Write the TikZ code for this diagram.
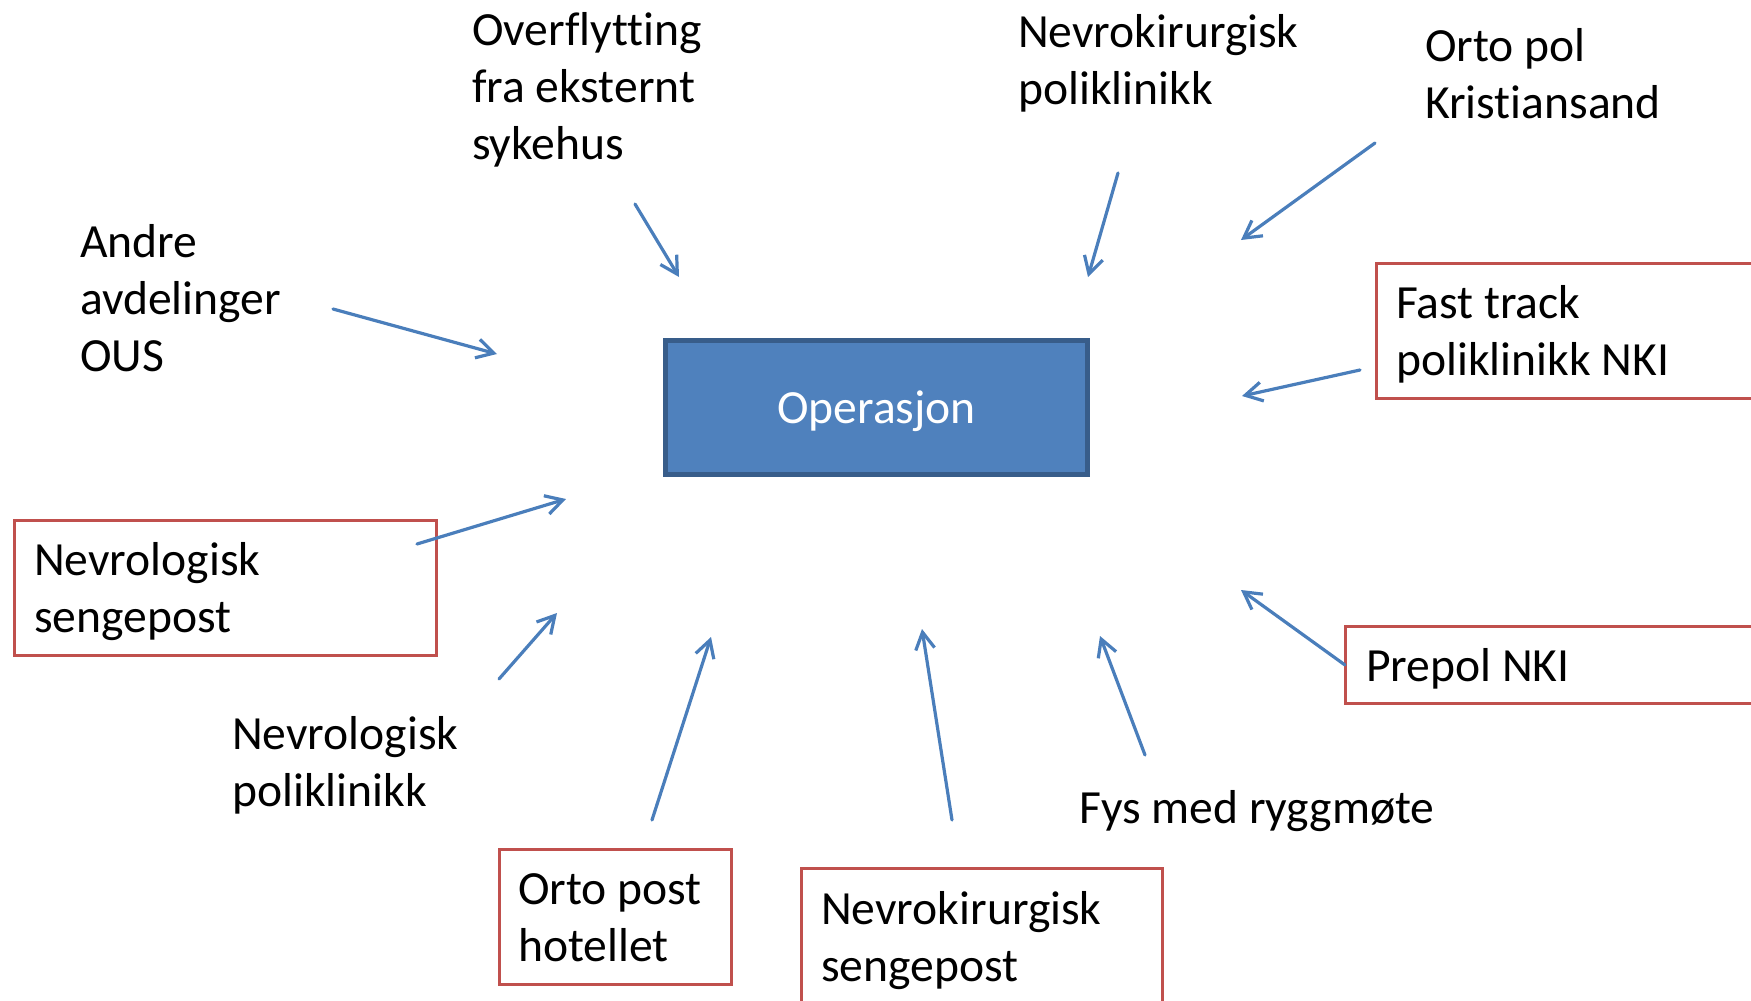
\documentclass[tikz,border=0pt]{standalone}
\usepackage{fontspec}
\setmainfont{Carlito}[Ligatures=NoCommon]
\usetikzlibrary{arrows.meta}
\definecolor{arrowblue}{HTML}{4A7EBB}
\definecolor{boxred}{HTML}{C0504D}
\definecolor{opfill}{HTML}{4F81BD}
\definecolor{opdraw}{HTML}{385D8A}
\tikzset{
  lbl/.style={anchor=north west, inner sep=0pt, align=left,
    font=\fontsize{47.6pt}{57pt}\selectfont},
  redbox/.style={draw=boxred, line width=2.5pt, anchor=north west,
    inner sep=0pt, rectangle},
  opbox/.style={draw=opdraw, fill=opfill, line width=5pt, rectangle,
    minimum width=422pt, minimum height=134pt, inner sep=0pt,
    text=white, font=\fontsize{47.6pt}{57pt}\selectfont,
    text height=40pt, text depth=9pt},
  arr/.style={draw=arrowblue, line width=3.2pt, line cap=round,
    -{Straight Barb[length=17pt,width=19pt,line width=3.2pt]}}
}
\begin{document}
\begin{tikzpicture}[x=1pt,y=-1pt]
\useasboundingbox (0,0) rectangle (1751,1001);
\clip (0,0) rectangle (1751,1001);
% central box
\node[opbox] (op) at (876.5,407.5) {Operasjon};
% red boxes
\node[redbox, minimum width=422pt, minimum height=135pt] (bns) at (13,519) {};
\node[redbox, minimum width=232pt, minimum height=135pt] (bop) at (498,848) {};
\node[redbox, minimum width=361pt, minimum height=150pt] (bnk) at (800,867) {};
\node[redbox, minimum width=400pt, minimum height=135pt] (bft) at (1375,262) {};
\node[redbox, minimum width=420pt, minimum height=77pt] (bpp) at (1344,625) {};
% labels
\node[lbl] (tov) at (472,5) {\strut Overflytting\\\strut fra eksternt\\\strut sykehus};
\node[lbl] (tnkp) at (1018,7) {\strut Nevrokirurgisk\\\strut poliklinikk};
\node[lbl] (top) at (1425,21) {\strut Orto pol\\\strut Kristiansand};
\node[lbl] (tan) at (80,217) {\strut Andre\\\strut avdelinger\\\strut OUS};
\node[lbl] (tft) at (1396,278) {\strut Fast track\\\strut poliklinikk NKI};
\node[lbl] (tns) at (34,535) {\strut Nevrologisk\\\strut sengepost};
\node[lbl] (tpp) at (1366,641) {\strut Prepol NKI};
\node[lbl] (tnp) at (232,709) {\strut Nevrologisk\\\strut poliklinikk};
\node[lbl] (tfy) at (1079,783) {\strut Fys med ryggmøte};
\node[lbl] (tos) at (518,864) {\strut Orto post\\\strut hotellet};
\node[lbl] (tnks) at (821,884) {\strut Nevrokirurgisk\\\strut sengepost};
% arrow end points
\coordinate (a1s) at (635,204);  \coordinate (a1e) at (679,277);
\coordinate (a2s) at (1118,173); \coordinate (a2e) at (1088,277);
\coordinate (a3s) at (1375,143); \coordinate (a3e) at (1241,240);
\coordinate (a4s) at (333,309);  \coordinate (a4e) at (497,354);
\coordinate (a5s) at (1360,370); \coordinate (a5e) at (1242,396);
\coordinate (a6s) at (417,544);  \coordinate (a6e) at (566,499);
\coordinate (a7s) at (499,679);  \coordinate (a7e) at (557,613);
\coordinate (a8s) at (652,820);  \coordinate (a8e) at (711,637);
\coordinate (a9s) at (952,820);  \coordinate (a9e) at (922,629);
\coordinate (a10s) at (1145,755); \coordinate (a10e) at (1100,636);
\coordinate (a11s) at (1345,665); \coordinate (a11e) at (1241,590);
\draw[arr] (a1s) -- (a1e);
\draw[arr] (a2s) -- (a2e);
\draw[arr] (a3s) -- (a3e);
\draw[arr] (a4s) -- (a4e);
\draw[arr] (a5s) -- (a5e);
\draw[arr] (a6s) -- (a6e);
\draw[arr] (a7s) -- (a7e);
\draw[arr] (a8s) -- (a8e);
\draw[arr] (a9s) -- (a9e);
\draw[arr] (a10s) -- (a10e);
\draw[arr] (a11s) -- (a11e);
\end{tikzpicture}
\end{document}
